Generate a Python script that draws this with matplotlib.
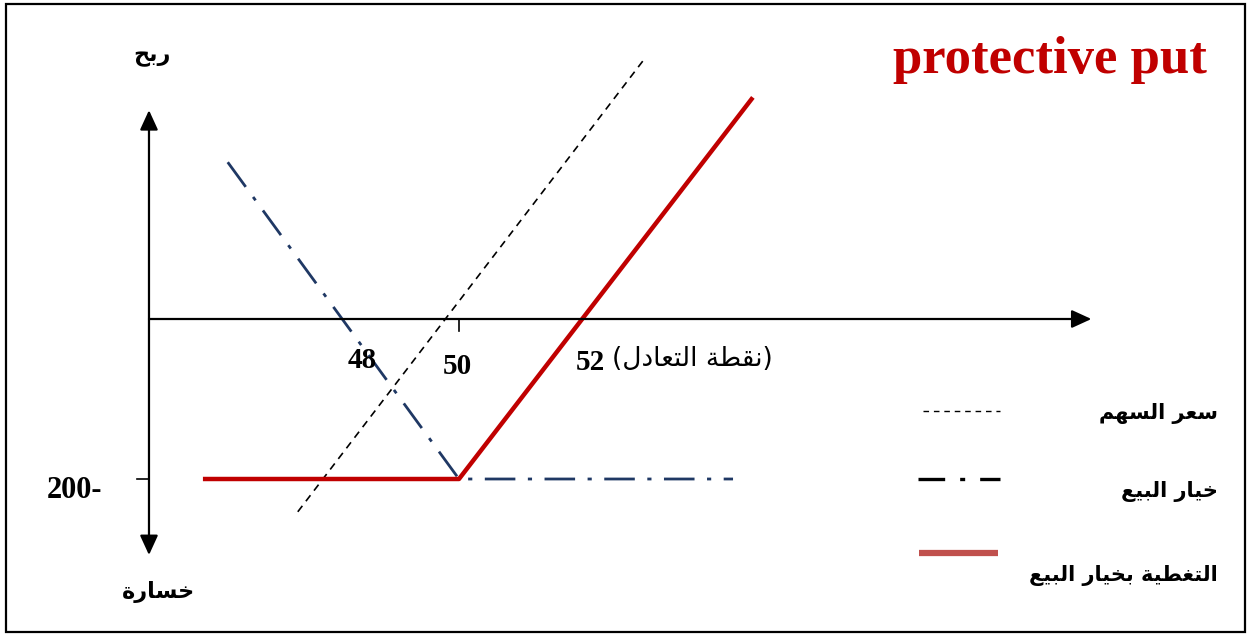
import matplotlib
matplotlib.use('Agg')
import matplotlib.pyplot as plt
from matplotlib.patches import Rectangle

# 收益数据 (价格, 盈亏)
stock_price = [47.4, 53.0]
stock_pl = [-241, 326]
put_price = [46.27, 50.0, 54.42]
put_pl = [196, -200, -200]
protective_price = [45.87, 50.0, 54.74]
protective_pl = [-200, -200, 277]

tick_prices = [48, 50, 52]
tick_labels = ['48', '50', '52']
floor_value = -200
floor_label = '200-'

title = 'protective put'
label_profit = 'ربح'
label_loss = 'خسارة'
label_breakeven = '(نقطة التعادل)'
legend_labels = ['سعر السهم', 'خيار البيع', 'التغطية بخيار البيع']

# 阿拉伯字母连写形式: 独立, 词尾, 词首, 词中
FORMS = {
    'ا': ('\uFE8D', '\uFE8E', None, None),
    'ب': ('\uFE8F', '\uFE90', '\uFE91', '\uFE92'),
    'ة': ('\uFE93', '\uFE94', None, None),
    'ت': ('\uFE95', '\uFE96', '\uFE97', '\uFE98'),
    'ح': ('\uFEA1', '\uFEA2', '\uFEA3', '\uFEA4'),
    'خ': ('\uFEA5', '\uFEA6', '\uFEA7', '\uFEA8'),
    'د': ('\uFEA9', '\uFEAA', None, None),
    'ر': ('\uFEAD', '\uFEAE', None, None),
    'س': ('\uFEB1', '\uFEB2', '\uFEB3', '\uFEB4'),
    'ط': ('\uFEC1', '\uFEC2', '\uFEC3', '\uFEC4'),
    'ع': ('\uFEC9', '\uFECA', '\uFECB', '\uFECC'),
    'غ': ('\uFECD', '\uFECE', '\uFECF', '\uFED0'),
    'ق': ('\uFED5', '\uFED6', '\uFED7', '\uFED8'),
    'ل': ('\uFEDD', '\uFEDE', '\uFEDF', '\uFEE0'),
    'م': ('\uFEE1', '\uFEE2', '\uFEE3', '\uFEE4'),
    'ن': ('\uFEE5', '\uFEE6', '\uFEE7', '\uFEE8'),
    'ه': ('\uFEE9', '\uFEEA', '\uFEEB', '\uFEEC'),
    'ي': ('\uFEF1', '\uFEF2', '\uFEF3', '\uFEF4'),
}


def ar(txt):
    # 简单的连写 + 从右到左
    out = []
    for i, ch in enumerate(txt):
        if ch not in FORMS:
            out.append(ch)
            continue
        prev = txt[i - 1] if i > 0 else ''
        nxt = txt[i + 1] if i + 1 < len(txt) else ''
        jp = prev in FORMS and FORMS[prev][2] is not None
        jn = nxt in FORMS and FORMS[ch][2] is not None
        iso, fin, ini, med = FORMS[ch]
        if jp and jn:
            out.append(med)
        elif jp:
            out.append(fin)
        elif jn:
            out.append(ini)
        else:
            out.append(iso)
    s = ''.join(out)[::-1]
    return s.translate(str.maketrans('()', ')('))


RED = '#C00000'
NAVY = '#1F3864'
SERIF = 'Liberation Serif'
ARFONT = ['DejaVu Sans']

fig = plt.figure(figsize=(12.47, 6.35), dpi=100)
ax = fig.add_axes([0, 0, 1, 1])
ax.set_xlim(42.597, 62.71)
ax.set_ylim(-395, 398.75)
ax.axis('off')

# 边框
fig.patches.append(Rectangle((6 / 1247, 3 / 635), 1239 / 1247, 628 / 635,
                             transform=fig.transFigure, fill=False,
                             edgecolor='black', linewidth=1.6))

# 坐标轴
x0 = 45.0
ax.annotate('', xy=(x0, 261), xytext=(x0, -295),
            arrowprops=dict(arrowstyle='<|-|>,head_length=1.2,head_width=0.55',
                            color='black', lw=1.6, shrinkA=0, shrinkB=0,
                            mutation_scale=10))
ax.annotate('', xy=(60.2, 0), xytext=(x0, 0),
            arrowprops=dict(arrowstyle='-|>,head_length=1.2,head_width=0.55',
                            color='black', lw=1.6, shrinkA=0, shrinkB=0,
                            mutation_scale=10))
ax.plot([50, 50], [0, -15], color='black', lw=1.2)
ax.plot([x0, x0 - 0.19], [floor_value, floor_value], color='black', lw=1.2)

# 曲线
ax.plot(stock_price, stock_pl, color='black', lw=1.2, dashes=(4.5, 3.5))
ax.plot(put_price, put_pl, color=NAVY, lw=2.0, dashes=(11, 4.5, 1.5, 4.5))
ax.plot(protective_price, protective_pl, color=RED, lw=3.2, solid_capstyle='butt')

# 刻度标签
tick_pos = [(362, 360), (457, 367), (590, 362)]
for (px, py), lab in zip(tick_pos, tick_labels):
    fig.text(px / 1247, 1 - py / 635, lab, ha='center', va='center',
             fontsize=21, fontweight='bold', family=SERIF)
fig.text(612 / 1247, 1 - 359 / 635, ar(label_breakeven), ha='left', va='center',
         fontsize=19, family=ARFONT)
fig.text(74 / 1247, 1 - 490 / 635, floor_label, ha='center', va='center',
         fontsize=22, fontweight='bold', family=SERIF)

fig.text(152 / 1247, 1 - 57 / 635, ar(label_profit), ha='center', va='center',
         fontsize=16, fontweight='bold', family=ARFONT)
fig.text(158 / 1247, 1 - 592 / 635, ar(label_loss), ha='center', va='center',
         fontsize=16, fontweight='bold', family=ARFONT)

fig.text(1207 / 1247, 1 - 60 / 635, title, ha='right', va='center', color=RED,
         fontsize=38, fontweight='bold', family=SERIF)

# 图例
fig.add_artist(plt.Line2D([923 / 1247, 1000 / 1247], [1 - 411 / 635] * 2,
                          color='black', lw=1.0, dashes=(4, 3.5)))
fig.add_artist(plt.Line2D([918 / 1247, 1000 / 1247], [1 - 479 / 635] * 2,
                          color='black', lw=2.4, dashes=(8, 4.5, 1.5, 4.5)))
fig.add_artist(plt.Line2D([919 / 1247, 998 / 1247], [1 - 553 / 635] * 2,
                          color='#C0504D', lw=4.5, solid_capstyle='butt'))
leg_y = [413, 492, 575]
for yy, lab in zip(leg_y, legend_labels):
    fig.text(1218 / 1247, 1 - yy / 635, ar(lab), ha='right', va='center',
             fontsize=15, fontweight='bold', family=ARFONT)

fig.savefig('out.png', dpi=100)
